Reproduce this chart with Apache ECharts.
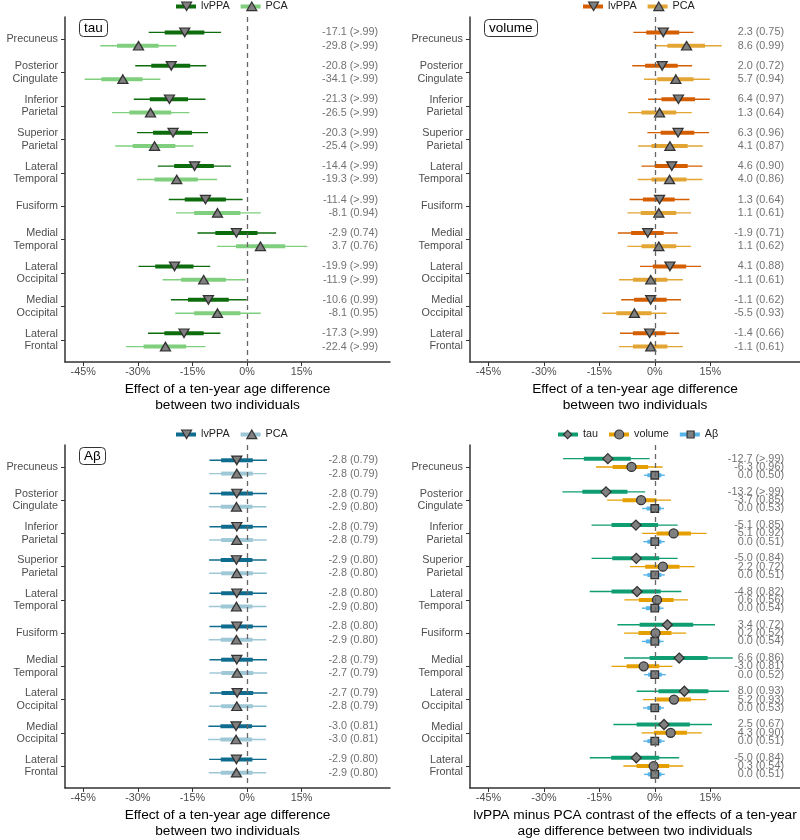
<!DOCTYPE html>
<html><head><meta charset="utf-8">
<script src="https://cdn.jsdelivr.net/npm/echarts@6/dist/echarts.min.js"></script>
<style>html,body{margin:0;padding:0;background:#fff}#c{width:800px;height:840px}</style>
</head><body><div id="c"></div><script>
// ---------------- DATA ----------------
const regions = ['Precuneus','Posterior\nCingulate','Inferior\nParietal','Superior\nParietal','Lateral\nTemporal',
  'Fusiform','Medial\nTemporal','Lateral\nOccipital','Medial\nOccipital','Lateral\nFrontal'];
const xTicks = [-45, -30, -15, 0, 15];
const regionTicks = [1,2,3,4,5,6,7,8,9,10];

// rows: [point, thin low, thick low, thick high, thin high]
const tau_lvPPA = [[-17.1,-27.0,-22.6,-11.7,-7.1],[-20.8,-30.7,-26.3,-15.6,-11.2],[-21.3,-31.1,-26.7,-16.2,-11.4],
  [-20.3,-30.2,-25.8,-15.1,-10.7],[-14.4,-24.5,-20.0,-9.1,-4.4],[-11.4,-21.5,-17.1,-5.8,-1.2],[-2.9,-13.6,-8.7,2.9,8.0],
  [-19.9,-29.8,-25.2,-14.7,-10.1],[-10.6,-20.9,-16.2,-5.0,-0.1],[-17.3,-27.2,-22.7,-11.9,-7.3]];
const tau_PCA = [[-29.8,-40.3,-35.7,-24.3,-19.4],[-34.1,-44.6,-40.0,-28.7,-23.8],[-26.5,-37.1,-32.3,-20.8,-15.8],
  [-25.4,-36.2,-31.4,-19.7,-14.7],[-19.3,-30.2,-25.4,-13.5,-8.2],[-8.1,-19.5,-14.5,-1.8,3.8],[3.7,-8.2,-3.0,10.5,16.6],
  [-11.9,-23.2,-18.1,-5.8,-0.4],[-8.1,-19.7,-14.5,-1.8,3.8],[-22.4,-33.2,-28.4,-16.7,-11.4]];
const tau_lvPPA_text = ['-17.1 (>.99)','-20.8 (>.99)','-21.3 (>.99)','-20.3 (>.99)','-14.4 (>.99)','-11.4 (>.99)','-2.9 (0.74)','-19.9 (>.99)','-10.6 (0.99)','-17.3 (>.99)'];
const tau_PCA_text = ['-29.8 (>.99)','-34.1 (>.99)','-26.5 (>.99)','-25.4 (>.99)','-19.3 (>.99)','-8.1 (0.94)','3.7 (0.76)','-11.9 (>.99)','-8.1 (0.95)','-22.4 (>.99)'];

const vol_lvPPA = [[2.3,-5.8,-2.3,6.6,10.5],[2.0,-6.1,-2.6,6.2,10.1],[6.4,-1.8,1.8,10.9,14.9],[6.3,-2.0,1.6,10.7,14.7],
  [4.6,-3.6,0.0,8.9,12.9],[1.3,-6.8,-3.2,5.4,9.4],[-1.9,-10.0,-6.4,2.4,6.2],[4.1,-4.0,-0.5,8.5,12.5],
  [-1.1,-9.1,-5.6,3.2,7.1],[-1.4,-9.4,-5.9,2.9,6.6]];
const vol_PCA = [[8.6,0.0,3.4,13.6,18.1],[5.7,-2.9,0.7,10.5,14.9],[1.3,-7.2,-3.6,5.8,10.0],[4.1,-4.5,-0.9,8.9,13.0],
  [4.0,-4.6,-0.9,8.6,12.9],[1.1,-7.4,-3.8,5.8,9.8],[1.1,-7.4,-3.6,5.8,9.8],[-1.1,-9.7,-5.9,3.4,7.6],
  [-5.5,-14.2,-10.4,-0.9,3.2],[-1.1,-9.7,-5.9,3.4,7.6]];
const vol_lvPPA_text = ['2.3 (0.75)','2.0 (0.72)','6.4 (0.97)','6.3 (0.96)','4.6 (0.90)','1.3 (0.64)','-1.9 (0.71)','4.1 (0.88)','-1.1 (0.62)','-1.4 (0.66)'];
const vol_PCA_text = ['8.6 (0.99)','5.7 (0.94)','1.3 (0.64)','4.1 (0.87)','4.0 (0.86)','1.1 (0.61)','1.1 (0.62)','-1.1 (0.61)','-5.5 (0.93)','-1.1 (0.61)'];

const ab_lvPPA = [[-2.8,-10.3,-7.1,1.6,5.5],[-2.8,-10.3,-7.1,1.6,5.5],[-2.8,-10.3,-7.1,1.6,5.5],[-2.9,-10.4,-7.2,1.5,5.4],
  [-2.8,-10.3,-7.1,1.6,5.5],[-2.8,-10.3,-7.1,1.6,5.5],[-2.8,-10.3,-7.1,1.6,5.5],[-2.7,-10.2,-7.0,1.7,5.6],
  [-3.0,-10.6,-7.3,1.4,5.3],[-2.9,-10.4,-7.2,1.5,5.4]];
const ab_PCA = [[-2.8,-10.4,-7.1,1.6,5.4],[-2.9,-10.5,-7.2,1.5,5.3],[-2.8,-10.4,-7.1,1.6,5.4],[-2.8,-10.4,-7.1,1.6,5.4],
  [-2.9,-10.5,-7.2,1.5,5.3],[-2.9,-10.5,-7.2,1.5,5.3],[-2.7,-10.3,-7.0,1.7,5.5],[-2.8,-10.4,-7.1,1.6,5.4],
  [-3.0,-10.7,-7.3,1.4,5.2],[-2.9,-10.5,-7.2,1.5,5.3]];
const ab_lvPPA_text = ['-2.8 (0.79)','-2.8 (0.79)','-2.8 (0.79)','-2.9 (0.80)','-2.8 (0.80)','-2.8 (0.80)','-2.8 (0.79)','-2.7 (0.79)','-3.0 (0.81)','-2.9 (0.80)'];
const ab_PCA_text = ['-2.8 (0.79)','-2.9 (0.80)','-2.8 (0.79)','-2.8 (0.80)','-2.9 (0.80)','-2.9 (0.80)','-2.7 (0.79)','-2.8 (0.79)','-3.0 (0.81)','-2.9 (0.80)'];

const diff_tau = [[-12.7,-24.8,-19.2,-6.5,-1.4],[-13.2,-25.0,-19.6,-7.4,-2.6],[-5.1,-17.1,-11.7,0.9,6.2],[-5.0,-17.1,-11.5,1.2,6.2],
  [-4.8,-17.6,-11.7,1.6,7.2],[3.4,-10.1,-4.1,10.4,16.3],[6.6,-8.3,-1.4,14.3,21.1],[8.0,-4.9,1.0,14.5,20.1],
  [2.5,-11.2,-4.9,9.5,15.5],[-5.0,-17.6,-11.8,1.2,6.6]];
const diff_vol = [[-6.3,-15.9,-11.4,-1.8,2.1],[-3.7,-12.9,-8.7,0.5,4.4],[5.1,-3.4,0.5,9.8,14.0],[2.2,-6.7,-2.6,6.7,10.8],
  [0.6,-8.2,-4.3,5.1,9.0],[0.2,-8.3,-4.4,4.5,8.5],[-3.0,-11.7,-7.6,1.2,4.8],[5.2,-3.2,0.5,9.8,13.9],
  [4.3,-3.6,-0.2,8.7,12.7],[-0.3,-8.5,-4.9,3.9,7.7]];
const diff_ab = [[0.0,-2.9,-2.0,1.8,2.7],[0.0,-3.4,-2.2,1.6,2.5],[0.0,-3.1,-2.0,1.8,2.7],[0.0,-3.1,-2.0,1.8,2.7],
  [0.0,-3.5,-2.4,1.5,2.4],[0.0,-3.5,-2.4,1.5,2.4],[0.0,-2.9,-1.8,1.9,3.0],[0.0,-3.2,-2.0,1.7,2.5],
  [0.0,-3.1,-2.0,1.8,2.7],[0.0,-2.9,-1.9,1.8,2.7]];
const diff_tau_text = ['-12.7 (>.99)','-13.2 (>.99)','-5.1 (0.85)','-5.0 (0.84)','-4.8 (0.82)','3.4 (0.72)','6.6 (0.86)','8.0 (0.93)','2.5 (0.67)','-5.0 (0.84)'];
const diff_vol_text = ['-6.3 (0.96)','-3.7 (0.85)','5.1 (0.92)','2.2 (0.72)','0.6 (0.56)','0.2 (0.52)','-3.0 (0.81)','5.2 (0.93)','4.3 (0.90)','0.3 (0.54)'];
const diff_ab_text = ['0.0 (0.50)','0.0 (0.53)','0.0 (0.51)','0.0 (0.51)','0.0 (0.54)','0.0 (0.54)','0.0 (0.52)','0.0 (0.53)','0.0 (0.51)','0.0 (0.51)'];

// ---------------- STYLE ----------------
const FONT = '"Liberation Sans", Arial, Helvetica, sans-serif';
const DOWN = 'path://M0,0 L10,0 L5,8.66 Z';
const UP = 'path://M5,0 L10,8.66 L0,8.66 Z';
const DIAM = 'path://M5,0 L10,5 L5,10 L0,5 Z';
const CIRC = 'circle';
const SQR = 'path://M0,0 L8,0 L8,8 L0,8 Z';
// legend keys padded to the 20x9 key box so they sit centred on the bar
const BAR = 'path://M0,2.5 L20,2.5 L20,6.5 L0,6.5 Z M0,0 M20,9';
const L_DOWN = 'path://M0,0 M20,9 M5,0 L15,0 L10,8.66 Z';
const L_UP = 'path://M0,0 M20,9 M10,0 L15,8.66 L5,8.66 Z';
const L_DIAM = 'path://M0,-0.5 M20,9.5 M5.5,4.5 L10,0 L14.5,4.5 L10,9 Z';
const L_CIRC = 'path://M0,0 M20,9 M14.5,4.5 A4.5,4.5 0 1 1 5.5,4.5 A4.5,4.5 0 1 1 14.5,4.5 Z';
const L_SQR = 'path://M0,0 M20,9 M6.5,1 L13.5,1 L13.5,8 L6.5,8 Z';
const xTitle = 'Effect of a ten-year age difference\nbetween two individuals';

const panels = [
  {grid:{left:65, top:17, width:325, height:345}, labelX:36.2, legendLeft:176, legendTop:1, box:'tau',
   xName:xTitle, offsets:[-0.2,0.2],
   groups:[{name:'lvPPA', color:'#0d6d0d', rows:tau_lvPPA, text:tau_lvPPA_text, symbol:DOWN, key:L_DOWN, size:[10,8.5]},
           {name:'PCA', color:'#7fcf7f', rows:tau_PCA, text:tau_PCA_text, symbol:UP, key:L_UP, size:[10,8.5]}]},
  {grid:{left:470, top:17, width:330, height:345}, labelX:35.1, legendLeft:583, legendTop:1, box:'volume',
   xName:xTitle, offsets:[-0.2,0.2],
   groups:[{name:'lvPPA', color:'#d55e00', rows:vol_lvPPA, text:vol_lvPPA_text, symbol:DOWN, key:L_DOWN, size:[10,8.5]},
           {name:'PCA', color:'#e3a534', rows:vol_PCA, text:vol_PCA_text, symbol:UP, key:L_UP, size:[10,8.5]}]},
  {grid:{left:65, top:445, width:325, height:345}, labelX:36.2, legendLeft:176, legendTop:429, box:'Aβ',
   xName:xTitle, offsets:[-0.2,0.2],
   groups:[{name:'lvPPA', color:'#0f6c8e', rows:ab_lvPPA, text:ab_lvPPA_text, symbol:DOWN, key:L_DOWN, size:[10,8.5]},
           {name:'PCA', color:'#9fc8d7', rows:ab_PCA, text:ab_PCA_text, symbol:UP, key:L_UP, size:[10,8.5]}]},
  {grid:{left:470, top:445, width:330, height:345}, labelX:35.1, legendLeft:558, legendTop:429, box:null,
   xName:'lvPPA minus PCA contrast of the effects of a ten-year\nage difference between two individuals', offsets:[-0.25,0,0.25],
   groups:[{name:'tau', color:'#0e9e72', rows:diff_tau, text:diff_tau_text, symbol:DIAM, key:L_DIAM, size:[10,10]},
           {name:'volume', color:'#e69f00', rows:diff_vol, text:diff_vol_text, symbol:CIRC, key:L_CIRC, size:9},
           {name:'Aβ', color:'#56b4e9', rows:diff_ab, text:diff_ab_text, symbol:SQR, key:L_SQR, size:[7.5,7.5]}]}
];

const grids = [], xAxes = [], yAxes = [], series = [], legends = [], titles = [];
const AX = '#333';
panels.forEach((p, i) => {
  grids.push(p.grid);
  xAxes.push({gridIndex:i, type:'value', min:-50, max:39.3, splitLine:{show:false},
    axisLine:{show:true, onZero:false, lineStyle:{color:AX, width:1.5}},
    axisTick:{show:true, customValues:xTicks, length:4, lineStyle:{color:AX}},
    axisLabel:{customValues:xTicks, formatter:v => v + '%', fontSize:10.8, color:'#4d4d4d', margin:5, fontFamily:FONT},
    name:p.xName, nameLocation:'middle', nameGap:19,
    nameTextStyle:{fontSize:13.7, color:'#000', lineHeight:16, fontFamily:FONT}});
  yAxes.push({gridIndex:i, type:'value', min:0.34, max:10.66, inverse:true, splitLine:{show:false},
    axisLine:{show:true, onZero:false, lineStyle:{color:AX, width:1.5}},
    axisTick:{show:true, customValues:regionTicks, length:4, lineStyle:{color:AX}},
    axisLabel:{customValues:regionTicks, formatter:v => regions[Math.round(v) - 1], fontSize:10.8,
      color:'#4d4d4d', lineHeight:12.5, margin:7, fontFamily:FONT}});
  // zero reference line
  series.push({type:'scatter', name:'zero' + i, xAxisIndex:i, yAxisIndex:i, data:[], z:1, silent:true,
    markLine:{silent:true, symbol:'none', label:{show:false}, animation:false,
      lineStyle:{type:[5,4], color:'#666', width:1.3}, data:[{xAxis:0}]}});
  const legA = [], legB = [];
  p.groups.forEach((g, j) => {
    const off = p.offsets[j];
    const col = g.color;
    series.push({type:'custom', name:g.name, xAxisIndex:i, yAxisIndex:i, z:2, silent:true,
      itemStyle:{color:col},
      data:g.rows.map((r, k) => [k + 1 + off, r[1], r[2], r[3], r[4]]),
      encode:{x:[1,2,3,4], y:0},
      renderItem:(params, api) => {
        const y = api.value(0);
        const a = api.coord([api.value(1), y]), b = api.coord([api.value(4), y]);
        const c = api.coord([api.value(2), y]), d = api.coord([api.value(3), y]);
        return {type:'group', children:[
          {type:'line', shape:{x1:a[0], y1:a[1], x2:b[0], y2:b[1]}, style:{stroke:col, lineWidth:1.4}},
          {type:'line', shape:{x1:c[0], y1:c[1], x2:d[0], y2:d[1]}, style:{stroke:col, lineWidth:4}}
        ]};
      }});
    series.push({type:'scatter', name:g.name, xAxisIndex:i, yAxisIndex:i, z:3, silent:true,
      symbol:g.symbol, symbolSize:g.size,
      itemStyle:{color:'#808080', borderColor:'#333', borderWidth:1.3, opacity:1},
      data:g.rows.map((r, k) => [r[0], k + 1 + off])});
    series.push({type:'scatter', name:'txt' + i + '_' + j, xAxisIndex:i, yAxisIndex:i, z:4, silent:true,
      symbolSize:1, itemStyle:{color:'rgba(0,0,0,0)'},
      label:{show:true, position:'left', distance:0, formatter:q => q.value[2], fontSize:10.8,
        color:'#4d4d4d', fontFamily:FONT},
      data:g.text.map((t, k) => [p.labelX, k + 1 + off, t])});
    legA.push({name:g.name, icon:BAR, itemStyle:{color:col, borderWidth:0}});
    legB.push({name:g.name, icon:g.key,
      itemStyle:{color:'#808080', borderColor:'#333', borderWidth:1.2}});
  });
  const legBase = {left:p.legendLeft, top:p.legendTop, itemWidth:20, itemHeight:9, itemGap:11,
    selectedMode:false, padding:0, orient:'horizontal'};
  legends.push(Object.assign({}, legBase, {data:legA, z:4,
    textStyle:{fontSize:10.8, color:'#222', fontFamily:FONT}}));
  legends.push(Object.assign({}, legBase, {data:legB, z:5,
    textStyle:{fontSize:10.8, color:'rgba(0,0,0,0)', fontFamily:FONT}}));
  if (p.box) {
    titles.push({text:p.box, left:p.grid.left + 14, top:p.grid.top + 2, padding:[2,5,1,5],
      borderColor:'#333', borderWidth:1, borderRadius:4, backgroundColor:'#fff',
      textStyle:{fontSize:13.5, fontWeight:'normal', color:'#000', fontFamily:FONT, lineHeight:15}});
  }
});

const chart = echarts.init(document.getElementById('c'));
chart.setOption({animation:false, backgroundColor:'#fff', title:titles, legend:legends,
  grid:grids, xAxis:xAxes, yAxis:yAxes, series:series});
</script></body></html>
